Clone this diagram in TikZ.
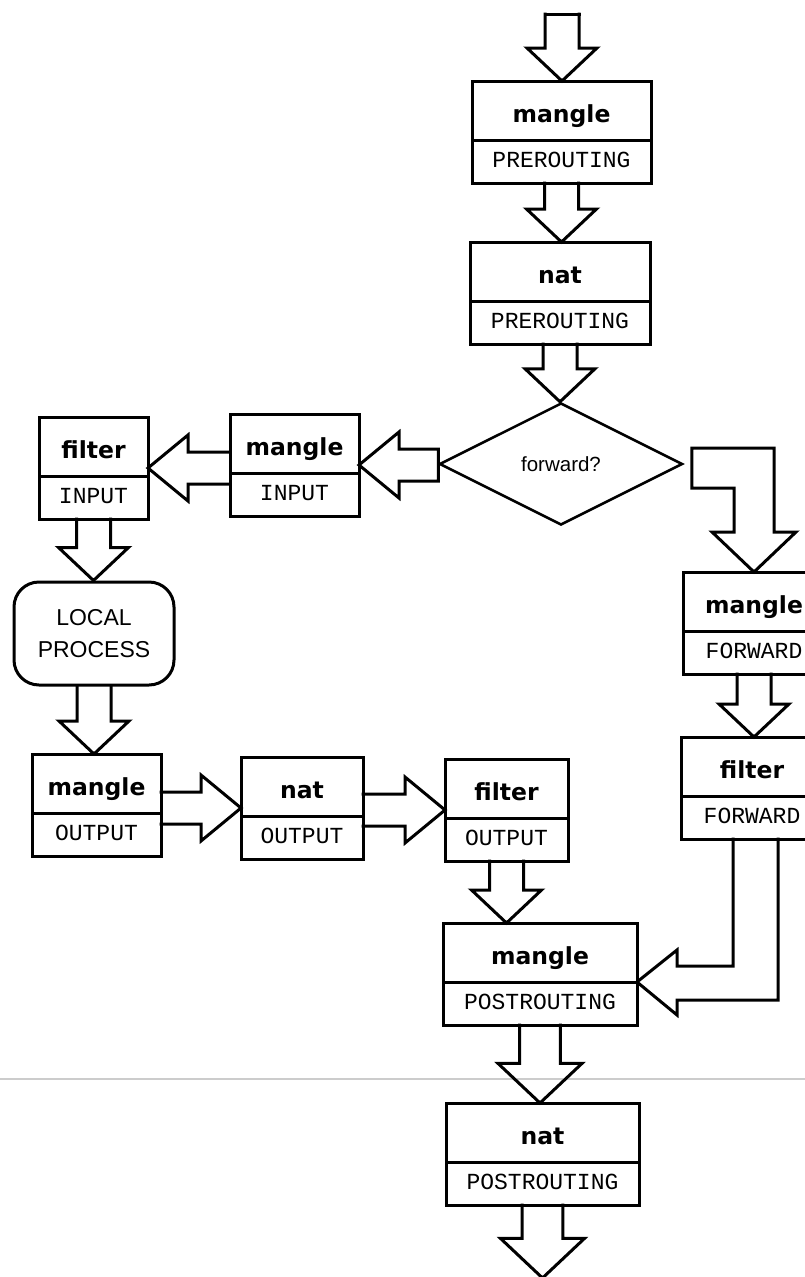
\documentclass[tikz,border=0pt]{standalone}
\usepackage{fontspec}
\usetikzlibrary{calc,shapes.multipart,shapes.geometric}
\newfontfamily\tabfont{DejaVu Sans}
\newfontfamily\chfont{Liberation Mono}
\newfontfamily\procfont{Liberation Sans}
\newcommand{\tabname}[1]{{\tabfont\bfseries\fontsize{23.5}{23.5}\selectfont\rule[-16pt]{0pt}{56pt}#1}}
\newcommand{\chname}[1]{{\chfont\fontsize{23}{23}\selectfont\rule[-14pt]{0pt}{40pt}#1}}
\newcommand{\fatdown}[3][1]{%
  \draw[fat] ($(#2)+({-17*#1},0)$) -- ($(#2 |- #3)+({-17*#1},{-33*#1})$) -- ++({-18*#1},0) -- (#2 |- #3)
    -- ($(#2 |- #3)+({35*#1},{-33*#1})$) -- ++({-18*#1},0) -- ($(#2)+({17*#1},0)$);
}
\newcommand{\fatleft}[3][]{%
  \draw[fat] ($(#2 |- #3)+(0,-16)$) -- ($(#3)+(40,-16)$) -- ++(0,-17) -- (#3)
    -- ($(#3)+(40,33)$) -- ++(0,-17) -- ($(#2 |- #3)+(0,16)$) #1;
}
\newcommand{\fatright}[2]{%
  \draw[fat] ($(#1 |- #2)+(0,-16)$) -- ($(#2)+(-40,-16)$) -- ++(0,-17) -- (#2)
    -- ($(#2)+(-40,33)$) -- ++(0,-17) -- ($(#1 |- #2)+(0,16)$);
}

\begin{document}
\begin{tikzpicture}[x=1pt, y=-1pt,
  fat/.style={line width=3pt, line cap=rect},
  tbox/.style={rectangle split, rectangle split parts=2, draw, line width=3pt, fill=white,
    inner sep=0pt, outer sep=0pt, text width=#1pt, align=center, anchor=north west}]
\clip (0,0) rectangle (805,1277);
\fill[white] (0,0) rectangle (805,1277);
\draw[black!20, line width=1.2pt] (0,1079) -- (805,1079);

\node[tbox=179] (mpre) at (472,81) {\tabname{mangle}\nodepart{two}\chname{PREROUTING}};
\node[tbox=180] (npre) at (470,242) {\tabname{nat}\nodepart{two}\chname{PREROUTING}};
\node[diamond, draw, line width=2.5pt, aspect=2, inner sep=0pt, minimum width=243pt, minimum height=122pt,
  font={\procfont\fontsize{20.5}{24}\selectfont}] (fwd) at (561,464) {forward?};
\node[tbox=129] (min) at (230,414) {\tabname{mangle}\nodepart{two}\chname{INPUT}};
\node[tbox=109] (fin) at (39,417) {\tabname{filter}\nodepart{two}\chname{INPUT}};
\node[draw, line width=3pt, rounded corners=25pt, minimum width=160pt, minimum height=103pt, align=center,
  font={\procfont\fontsize{23}{32}\selectfont}] (lp) at (94,633.5) {LOCAL\\PROCESS};
\node[tbox=129] (mout) at (32,754) {\tabname{mangle}\nodepart{two}\chname{OUTPUT}};
\node[tbox=122] (nout) at (241,757) {\tabname{nat}\nodepart{two}\chname{OUTPUT}};
\node[tbox=123] (fout) at (445,759) {\tabname{filter}\nodepart{two}\chname{OUTPUT}};
\node[tbox=142] (mfwd) at (683,572) {\tabname{mangle}\nodepart{two}\chname{FORWARD}};
\node[tbox=142] (ffwd) at (681,737) {\tabname{filter}\nodepart{two}\chname{FORWARD}};
\node[tbox=194] (mpost) at (443,923) {\tabname{mangle}\nodepart{two}\chname{POSTROUTING}};
\node[tbox=193] (npost) at (446,1103) {\tabname{nat}\nodepart{two}\chname{POSTROUTING}};
\coordinate (in) at (562,14);
\coordinate (out) at (543,1278);
\coordinate (mrg) at (mpost.text split east);

\fatdown{in}{mpre.north}
\draw[fat] ($(in)+(-17,0)$) -- ($(in)+(17,0)$);
\fatdown{mpre.south}{npre.north}
\fatdown{npre.south}{fwd.north}
\fatleft[-- cycle]{fwd.west}{min.east}
\fatleft{min.west}{fin.east}
\fatdown{fin.south}{lp.north}
\fatdown{lp.south}{mout.north}
\fatright{mout.east}{nout.west}
\fatright{nout.east}{fout.west}
\fatdown{fout.south}{mpost.north}
\fatdown[1.2]{mpost.south}{npost.north}
\fatdown[1.2]{npost.south}{out}
\fatdown{mfwd.south}{ffwd.north}
\draw[fat] ($(fwd.east)+(8,-16)$) -- ($(mfwd.north |- fwd.east)+(20,-16)$) -- ($(mfwd.north)+(20,-40)$) -- ++(22,0)
  -- (mfwd.north) -- ($(mfwd.north)+(-42,-40)$) -- ++(22,0) -- ($(mfwd.north |- fwd.east)+(-20,24)$)
  -- ($(fwd.east)+(8,24)$) -- cycle;
\draw[fat] ($(ffwd.south)+(-19,0)$) |- ($(mrg)+(40,-16)$) -- ++(0,-16) -- (mrg) -- ($(mrg)+(40,33)$)
  -- ++(0,-15) -| ($(ffwd.south)+(26,0)$);
\end{tikzpicture}
\end{document}
